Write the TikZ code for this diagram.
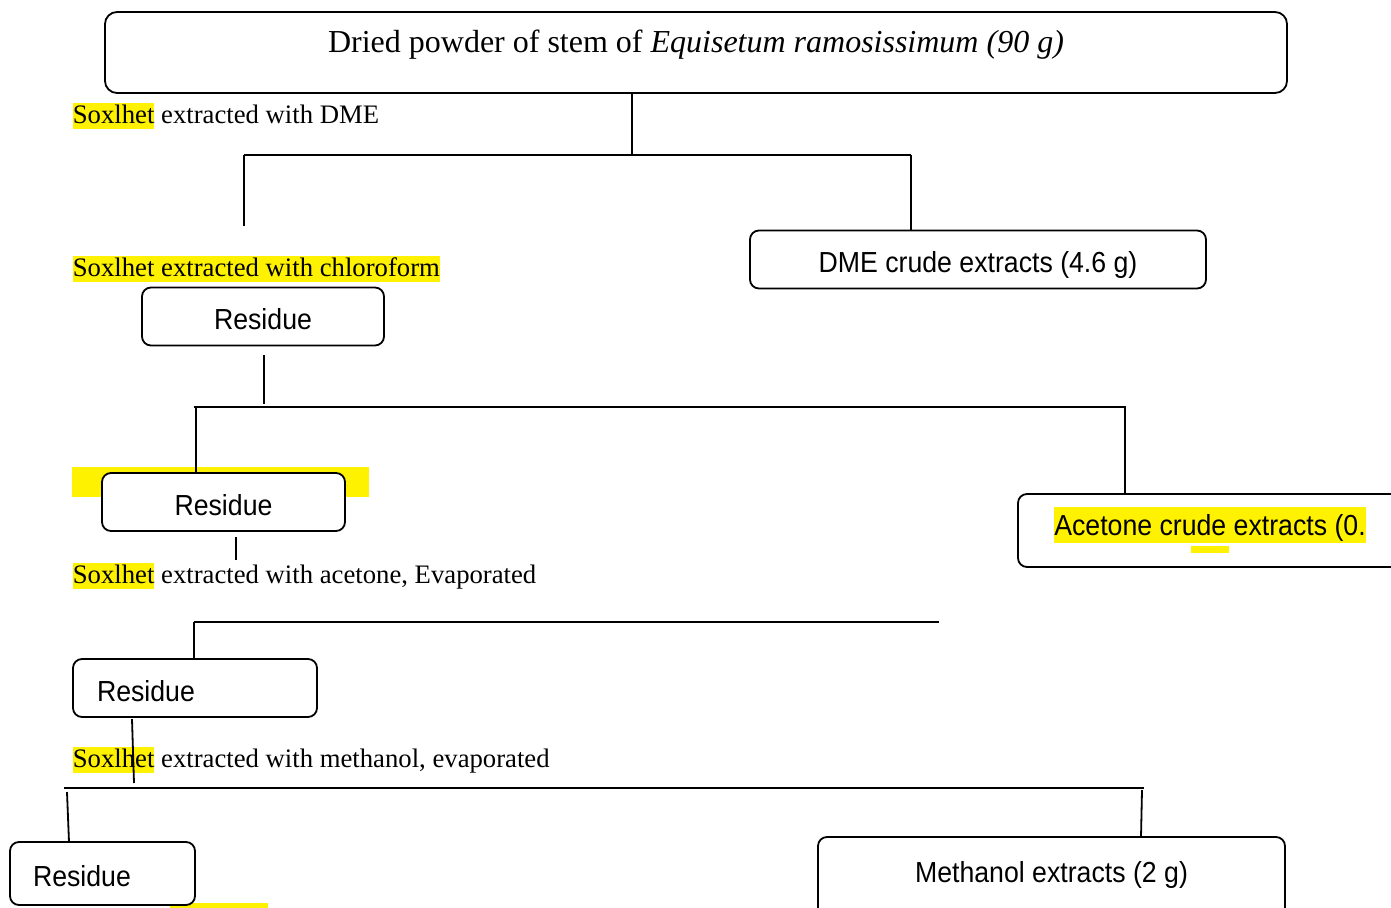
\documentclass[tikz,border=0pt]{standalone}
\usepackage{fontspec}
\setmainfont{Liberation Serif}
\newfontfamily\boxfont[FakeStretch=0.92]{Liberation Sans}
\newcommand{\hlserif}[1]{{\setlength{\fboxsep}{0pt}\colorbox{yellow}{\rule[-6pt]{0pt}{26pt}#1}}}
\newcommand{\hlsans}[1]{{\setlength{\fboxsep}{0pt}\colorbox{yellow}{\rule[-8pt]{0pt}{36pt}#1}}}
\begin{document}
\begin{tikzpicture}[x=1pt,y=-1pt,line width=1.8pt,
  topbox/.style={draw,rounded corners=12pt,inner sep=0pt,minimum width=1182pt,minimum height=81pt,
    text height=40.5pt,text depth=40.5pt,font=\fontsize{32}{36}\selectfont},
  box/.style={draw,rounded corners=9pt,fill=white,inner sep=0pt,minimum height=58pt,
    text height=28pt,text depth=2pt,font={\boxfont\fontsize{29}{33}\selectfont}},
  note/.style={anchor=base west,inner sep=0pt,font=\fontsize{26.7}{30}\selectfont}]
\useasboundingbox (0,0) rectangle (1391,907);
\clip (0,0) rectangle (1391,907);

\node[topbox] (src) at (696,52.5) {Dried powder of stem of \textit{Equisetum ramosissimum (90 g)}};
\node[note] (stepdme) at (72,123) {\hlserif{Soxlhet} extracted with DME};

\coordinate (a0) at (632,155);
\coordinate (a1) at (244,155);
\coordinate (a2) at (911,155);
\coordinate (a3) at (244,226);
\node[box,minimum width=456pt] (dme) at (978,259.5) {DME crude extracts (4.6 g)};
\draw (src.south -| a0) -- (a0);
\draw (a1) -- (a2);
\draw (a1) -- (a3);
\draw (a2) -- (dme.north -| a2);

\node[note] (stepchl) at (72,276) {\hlserif{Soxlhet extracted with chloroform}};
\node[box,minimum width=242pt] (resA) at (263,316.5) {Residue};

\coordinate (b0) at (264,355);
\coordinate (b1) at (264,404);
\coordinate (b2) at (194,407);
\coordinate (b3) at (1126,407);
\coordinate (b4) at (196,407);
\coordinate (b5) at (1125,407);
\fill[yellow] (72,467) rectangle (369,497);
\node[box,minimum width=243pt] (resB) at (223.5,502) {Residue};
\node[box,minimum width=384pt,minimum height=73pt,text height=20pt,text depth=11pt] (acetone) at (1210,530.5)
  {\hlsans{Acetone crude extracts (0.}};
\fill[yellow] (1191,546) rectangle (1229,553);
\draw (b0) -- (b1);
\draw (b2) -- (b3);
\draw (b4) -- (resB.north -| b4);
\draw (b5) -- (acetone.north -| b5);

\coordinate (c0) at (236,537);
\coordinate (c1) at (236,560);
\coordinate (c2) at (194,622);
\coordinate (c3) at (939,622);
\node[note] (stepace) at (72,583) {\hlserif{Soxlhet} extracted with acetone, Evaporated};
\node[box,minimum width=244pt,text width=196pt,align=left] (resC) at (195,688) {Residue};
\draw (c0) -- (c1);
\draw (c2) -- (c3);
\draw (c2) -- (resC.north -| c2);

\coordinate (d0) at (132,719);
\coordinate (d1) at (134,783);
\coordinate (d2) at (64,788);
\coordinate (d3) at (1144,788);
\coordinate (d4) at (67,792);
\coordinate (d5) at (69,842);
\coordinate (d6) at (1142,790);
\coordinate (d7) at (1141,837);
\node[note] (stepmet) at (72,767) {\hlserif{Soxlhet} extracted with methanol, evaporated};
\fill[yellow] (170,903) rectangle (268,910);
\node[box,minimum width=185pt,minimum height=63pt,text width=139pt,align=left] (resD) at (102.5,873.5) {Residue};
\node[box,minimum width=467pt,minimum height=90pt,text height=22pt,text depth=22pt] (methanol) at (1051.5,882)
  {Methanol extracts (2 g)};
\draw (d0) -- (d1);
\draw (d2) -- (d3);
\draw (d4) -- (d5);
\draw (d6) -- (d7);
\end{tikzpicture}
\end{document}
